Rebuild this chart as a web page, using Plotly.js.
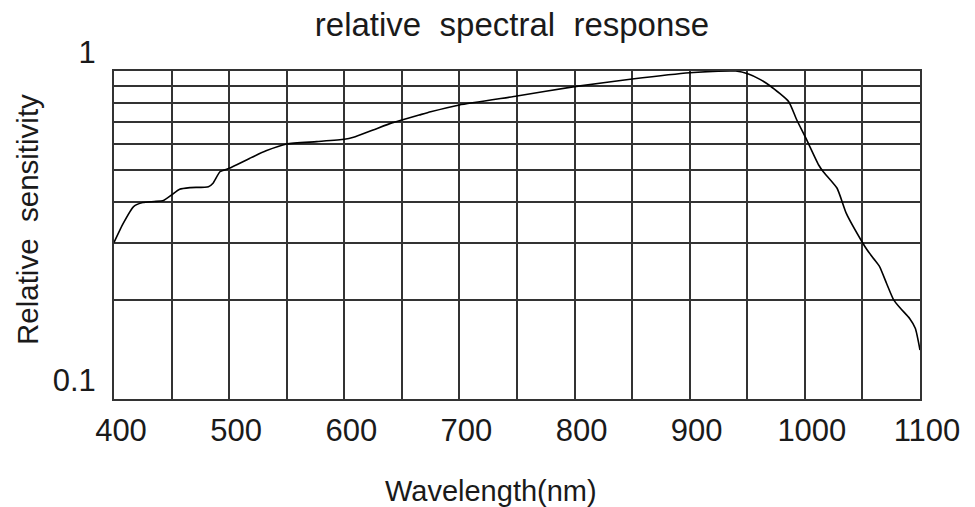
<!DOCTYPE html>
<html>
<head>
<meta charset="utf-8">
<script src="https://cdn.plot.ly/plotly-3.0.1.min.js"></script>
<style>html,body{margin:0;padding:0;background:#fff;}#chart{width:975px;height:507px;}</style>
</head>
<body>
<div id="chart"></div>
<script>
const wavelength = [400,408,417,425,435,443,450,457,466,482,486,492,500,518,532,550,576,600,608,625,642,650,665,675,700,750,800,850,900,935,940,951,961,970,986,993,1001,1012,1016,1028,1036,1050,1054,1060,1065,1071,1077,1083,1091,1096,1100];
const response = [0.30,0.343,0.386,0.397,0.400,0.403,0.419,0.436,0.441,0.444,0.455,0.493,0.505,0.542,0.571,0.599,0.609,0.619,0.628,0.661,0.696,0.709,0.734,0.751,0.788,0.839,0.896,0.945,0.988,1.0,1.0,0.979,0.943,0.90,0.806,0.709,0.623,0.517,0.493,0.439,0.368,0.30,0.285,0.267,0.253,0.225,0.201,0.189,0.176,0.164,0.141];
const xTickVals = [400,450,500,550,600,650,700,750,800,850,900,950,1000,1050,1100];
const xTickText = ['400','','500','','600','','700','','800','','900','','1000','','1100'];
const yTickVals = [0.1,0.2,0.3,0.4,0.5,0.6,0.7,0.8,0.9,1];
const yTickText = ['0.1','','','','','','','','','1'];
const chartTitle = 'relative\u00A0\u00A0spectral\u00A0\u00A0response';
const xTitle = 'Wavelength(nm)';
const yTitle = 'Relative\u00A0\u00A0sensitivity';

const FONT = '"Liberation Sans", Arial, sans-serif';
const TXT = '#1a1a1a';
const gridC = '#333';

Plotly.newPlot('chart', [{
  x: wavelength, y: response, type: 'scatter', mode: 'lines',
  line: {color: '#000', width: 1.6, shape: 'spline', smoothing: 0.5},
  hoverinfo: 'skip'
}], {
  width: 975, height: 507,
  margin: {l: 114, r: 55, t: 71, b: 108},
  paper_bgcolor: '#fff', plot_bgcolor: '#fff',
  font: {family: FONT, color: TXT, size: 28},
  showlegend: false,
  title: {text: chartTitle, x: 512/975, xanchor: 'center', xref: 'container', y: 1 - 24/507, yanchor: 'middle', font: {size: 33, family: FONT, color: TXT}},
  xaxis: {
    range: [400, 1100], tickmode: 'array', tickvals: xTickVals, ticktext: xTickText,
    showgrid: true, gridcolor: gridC, gridwidth: 2,
    showline: true, linecolor: gridC, linewidth: 2, mirror: true,
    zeroline: false, ticks: '', ticklabelstandoff: 3, ticklabelshift: 7,
    tickfont: {size: 31, family: FONT, color: TXT}
  },
  yaxis: {
    type: 'log', range: [-1, 0], tickmode: 'array', tickvals: yTickVals, ticktext: yTickText,
    showgrid: true, gridcolor: gridC, gridwidth: 2,
    showline: true, linecolor: gridC, linewidth: 2, mirror: true,
    zeroline: false, ticks: '', ticklabelstandoff: 10, ticklabelshift: -19,
    tickfont: {size: 31, family: FONT, color: TXT}
  },
  annotations: [
    {text: xTitle, xref: 'paper', yref: 'paper', x: (491 - 114) / 806, y: -(491 - 399) / 328,
     xanchor: 'center', yanchor: 'middle', showarrow: false, font: {size: 29, family: FONT, color: TXT}},
    {text: yTitle, xref: 'paper', yref: 'paper', x: (27 - 114) / 806, y: (399 - 220) / 328,
     xanchor: 'center', yanchor: 'middle', textangle: -90, showarrow: false, font: {size: 29.5, family: FONT, color: TXT}}
  ]
}, {staticPlot: true, displayModeBar: false});
</script>
</body>
</html>
